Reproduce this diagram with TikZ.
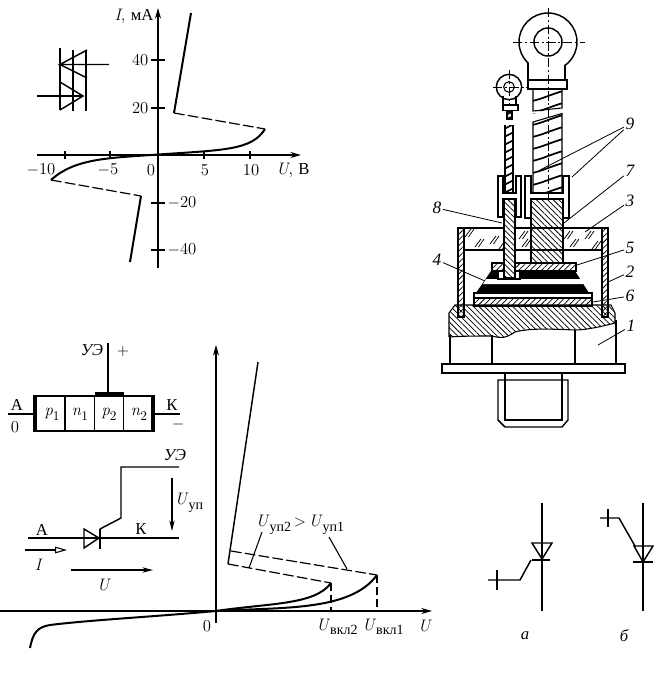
\documentclass[tikz,border=0pt]{standalone}
\usepackage{fontspec}
\usetikzlibrary{arrows.meta,patterns.meta}
\newfontfamily\cyr{Liberation Serif}
\newcommand{\subs}[1]{\raisebox{-.28em}{\fontsize{10}{11}\selectfont #1}}
\newcommand{\subc}[1]{\raisebox{-.28em}{\fontsize{10.5}{11}\selectfont\cyr #1}}
\tikzset{
  ax/.style={line width=.8pt,-{Stealth[length=8pt,width=4.5pt]}},
  thin line/.style={line width=.8pt},
  med/.style={line width=1.1pt},
  curve/.style={line width=1.5pt},
  dash line/.style={line width=.9pt,dash pattern=on 8pt off 2.5pt},
  txt/.style={inner sep=1pt,font=\fontsize{12.5}{14}\selectfont},
  num/.style={inner sep=2pt,font=\itshape\fontsize{13}{15}\cyr},
  leader/.style={line width=.6pt,shorten <=-1pt},
  hb/.style={draw,line width=.8pt,pattern={Lines[angle=-45,distance=3pt,line width=.55pt]}},
  hf/.style={draw,line width=.8pt,pattern={Lines[angle=45,distance=3pt,line width=.55pt]}},
  cl/.style={line width=.6pt,dash pattern=on 7pt off 2pt on 1.5pt off 2pt},
}
\begin{document}
\begin{tikzpicture}[x=.75pt,y=-.75pt]
\useasboundingbox (0,0) rectangle (660,693);
%% ---- upper characteristic
\coordinate (ay0) at (158,268); \coordinate (ay1) at (158,8);
\coordinate (ax0) at (37,155); \coordinate (ax1) at (301,155);
\draw[ax] (ay0)--(ay1);
\draw[ax] (ax0)--(ax1);
\foreach \y in {60,108,203,250} \draw[thin line] (151,\y)--(165,\y);
\foreach \x in {65,110,204,250} \draw[thin line] (\x,151)--(\x,159);
\node[txt,anchor=east] (yu) at (155,16) {\textit{I}, {\cyr мА}};
\node[txt,anchor=east] (y40) at (150,60) {40};
\node[txt,anchor=east] (y20) at (150,108) {20};
\node[txt,anchor=west] (ym20) at (166,203) {$-$20};
\node[txt,anchor=west] (ym40) at (166,250) {$-$40};
\node[txt] (xm10) at (41,170) {$-$10};
\node[txt] (xm5) at (108,170) {$-$5};
\node[txt] (x0) at (151,170) {0};
\node[txt] (x5) at (205,170) {5};
\node[txt] (x10) at (251,170) {10};
\node[txt] (xu) at (293,170) {\textit{U}, {\cyr В}};
\draw[curve] (191,13)--(174,113);
\draw[dash line] (174,113)--(265,129);
\draw[curve] (265,129) .. controls (252,150) and (225,150) .. (158,154.5)
  .. controls (110,158) and (75,158) .. (51,180);
\draw[dash line] (51,180)--(141,196);
\draw[curve] (141,196)--(130,262);
%% symbol
\draw[med] (60,48)--(60,110) (73,50)--(73,111) (86,50)--(86,111);
\draw[med] (109,64.5)--(60,64.5)--(87,50);
\draw[med] (60,64.5)--(87,78);
\draw[med] (37,96)--(83,96);
\draw[med] (60,82)--(83,96)--(60,110);
%% ---- p-n structure
\coordinate (gt) at (108,343);
\draw[thin line] (35,396) rectangle (153,431);
\foreach \x in {65,94.5,123.5} \draw[thin line] (\x,396)--(\x,431);
\draw[line width=2.6pt] (35,395)--(35,432) (153,395)--(153,432) (94.5,394)--(123.5,394);
\draw[med] (gt)--(108,394);
\draw[med] (8,414)--(35,414) (153,414)--(180,414);
\node[txt] (pa) at (17,405) {\cyr А};
\node[txt] (p0) at (15,427) {0};
\node[txt] (pk) at (172,405) {\cyr К};
\node[txt] (pm) at (178,424) {$-$};
\node[txt] (pue) at (92,350) {\cyr\itshape УЭ};
\node[txt] (pp) at (123,351) {$+$};
\node[txt] at (52,414) (s1) {\textit{p}\subs{1}};
\node[txt] at (80,414) (s2) {\textit{n}\subs{1}};
\node[txt] at (109,414) (s3) {\textit{p}\subs{2}};
\node[txt] at (139,414) (s4) {\textit{n}\subs{2}};
%% ---- thyristor
\draw[med] (28,538)--(179,538);
\draw[med] (84,529)--(99,538)--(84,548)--cycle;
\draw[med] (100,529)--(100,549);
\draw[med] (100,529)--(121,518)--(121,467)--(179,467);
\draw[thin line,-{Stealth[length=8pt,width=4pt]}] (172,478)--(172,531);
\draw[thin line,-{Triangle[open,length=9pt,width=5pt]}] (25,550)--(67,550);
\draw[thin line,-{Stealth[length=8pt,width=4pt]}] (71,570)--(153,570);
\node[txt] (ta) at (42,530) {\cyr А};
\node[txt] (tk) at (141,529) {\cyr К};
\node[txt] (tue) at (175,455) {\cyr\itshape УЭ};
\node[txt] (tuy) at (189,503) {\textit{U}\subc{уп}};
\node[txt] (ti) at (39,565) {\textit{I}};
\node[txt] (tu) at (104,585) {\textit{U}};
%% ---- lower characteristic
\draw[ax] (216,623)--(216,345);
\draw[ax] (0,611)--(432,611);
\draw[med] (258,362)--(228,564);
\draw[dash line] (231,551)--(377,575);
\draw[dash line] (228,564)--(331,583);
\draw[curve] (216,611) .. controls (270,603) and (315,605) .. (331,583);
\draw[curve] (216,611) .. controls (280,607) and (350,612) .. (377,575);
\draw[curve] (216,611) .. controls (150,617) and (90,620) .. (50,625) .. controls (38,627) and (33,632) .. (30,648);
\draw[thin line,dash pattern=on 6pt off 3pt] (331,583)--(331,611) (377,575)--(377,611);
\node[txt] (l0) at (207,626) {0};
\node[txt] (lv2) at (337,627) {\textit{U}\subc{вкл2}};
\node[txt] (lv1) at (383,627) {\textit{U}\subc{вкл1}};
\node[txt] (lu) at (425,626) {\textit{U}};
\node[txt] (lyy) at (300,525) {\textit{U}\subc{уп2}\,$>$\,\textit{U}\subc{уп1}};
\coordinate (ld1) at (249,568); \coordinate (ld2) at (347,569);
\draw[thin line] (262,532)--(ld1);
\draw[thin line] (329,537)--(ld2);
%% ---- device: base and stud
\draw[med,fill=white] (442,364) rectangle (625,373);
\draw[med] (450,335)--(450,364) (492,335)--(492,364) (575,330)--(575,364) (616,320)--(616,364);
\draw[med] (505,373)--(505,380) (562,373)--(562,380);
\draw[med] (498,380)--(568,380)--(568,420)--(562,427)--(505,427)--(498,420)--cycle;
\draw[thin line] (505,380)--(505,420)--(562,420)--(562,380);
\draw[hb] (449,337)--(449,313)--(455,305)--(611,305)--(615,313)--(615,323)
  .. controls (600,327) and (585,330) .. (575,330)
  .. controls (550,329) and (530,328) .. (515,332)
  .. controls (505,339) and (500,338) .. (492,336)
  .. controls (475,336) and (465,336) .. (449,337);
%% walls
\draw[hf] (458,228) rectangle (464,317);
\draw[hf] (602,228) rectangle (608,317);
\draw[med] (458,228)--(608,228) (464,250)--(602,250);
\foreach \x/\y in {468/233,478/243,493/240,502/245,522/235,525/243,567/235,573/243,588/235,595/245}
  \draw[line width=.55pt] (\x-3,\y+4)--(\x+3,\y-4) (\x+.5,\y+4)--(\x+6,\y-4);
%% stack
\draw[hf] (474,298) rectangle (592,306);
\draw[line width=.8pt] (474,293)--(592,293)--(592,298)--(474,298)--cycle;
\fill[black] (491,271)--(575,271)--(589,293)--(476,293)--cycle;
\fill[white] (486,279)--(581,279)--(584,284)--(483,284)--cycle;
\draw[hf] (492,263) rectangle (576,271);
%% nut of the control rod
\draw[thin line,fill=white] (498,271) rectangle (520,279);
\draw[thin line] (504,271)--(504,279) (515,271)--(515,279);
%% control rod
\fill[white] (504,199) rectangle (515,278);
\draw[hb] (504,199) rectangle (515,278);
\draw[thin line,fill=white] (498,176)--(503,176)--(503,193)--(516,193)--(516,176)--(521,176)--(521,217)--(516,217)--(516,199)--(503,199)--(503,217)--(498,217)--cycle;
\begin{scope}
  \clip (505,125) rectangle (513,193);
  \foreach \y in {127,135,...,199} \draw[line width=1.3pt] (504,\y+2)--(514,\y-3);
\end{scope}
\draw[thin line] (505,125)--(505,193)--(513,193)--(513,125);
\draw[thin line] (507,112) rectangle (512,119);
\begin{scope}
  \clip (507,112) rectangle (512,119);
  \foreach \y in {114,118} \draw[line width=.8pt] (506,\y+1)--(513,\y-2);
\end{scope}
\draw[med] (503,105)--(503,110.5) -- (518,110.5)--(518,105)--cycle;
\draw[med] (503,105)--(503,96) (516,96)--(516,105);
\draw[med] (509,87) circle[radius=9.5pt];
\draw[thin line] (509,87) circle[radius=4pt];
\draw[cl] (493,87.5)--(527,87.5) (509.5,70)--(509.5,105);
%% main stud
\draw[hb] (531,199) rectangle (563,263);
\draw[thin line] (525,176)--(531,176)--(531,193)--(563,193)--(563,176)--(569,176)--(569,218)--(563,218)--(563,199)--(531,199)--(531,218)--(525,218)--cycle;
\begin{scope}
  \clip (533,89) rectangle (562,111) (533,113) rectangle (562,193);
  \foreach \y in {96,108,...,204}
    \draw[line width=1.3pt] (532,\y+5) .. controls (542,\y+3) and (552,\y-2) .. (563,\y-5);
\end{scope}
\draw[thin line] (533,89)--(533,111)--(562,108)--(562,89);
\draw[thin line] (533,125)--(533,122)--(562,113.5)--(562,193)--(533,193)--(533,125);
%% eyelet
\draw[med] (548,42) circle[radius=21.75pt];
\fill[white] (529,60) rectangle (564,82);
\draw[med] (528,80)--(528,63) (565,80)--(565,65);
\draw[med] (528,80) rectangle (567,89);
\draw[med] (548,42) circle[radius=10.5pt];
\draw[cl] (513,42)--(585,42) (548,8)--(548,200);
%% labels and leaders
\node[num] (n9) at (630,124) {9};
\node[num] (n7) at (630,171) {7};
\node[num] (n3) at (630,201) {3};
\node[num] (n8) at (437,208) {8};
\node[num] (n5) at (630,248) {5};
\node[num] (n4) at (437,260) {4};
\node[num] (n2) at (630,272) {2};
\node[num] (n6) at (630,296) {6};
\node[num] (n1) at (631,326) {1};
\coordinate (c9a) at (540,170); \coordinate (c9b) at (572,177);
\coordinate (c7) at (564,223); \coordinate (c3) at (585,232);
\coordinate (c8) at (502,223); \coordinate (c5) at (577,265);
\coordinate (c4) at (485,281); \coordinate (c2) at (608,282);
\coordinate (c6) at (593,302); \coordinate (c1) at (598,345);
\foreach \a/\b in {n9/c9a,n9/c9b,n7/c7,n3/c3,n8/c8,n5/c5,n4/c4,n2/c2,n6/c6,n1/c1}
  \draw[leader] (\a)--(\b);
%% ---- symbols a, b
\draw[med] (542,503)--(542,611);
\draw[med] (532,543)--(552,543)--(542,559)--cycle;
\draw[med] (532,560)--(550,560);
\draw[med] (531,560)--(520,580)--(488,580);
\draw[med] (497,570)--(497,590);
\node[txt] (la) at (525,636) {\cyr\itshape а};
\draw[med] (643,503)--(643,611);
\draw[med] (634,546)--(653,546)--(643,562)--cycle;
\draw[med] (633,562)--(653,562);
\draw[med] (635,546)--(619,518)--(600,518);
\draw[med] (608,509)--(608,527);
\node[txt] (lb) at (624,636) {\cyr\itshape б};
\end{tikzpicture}
\end{document}
